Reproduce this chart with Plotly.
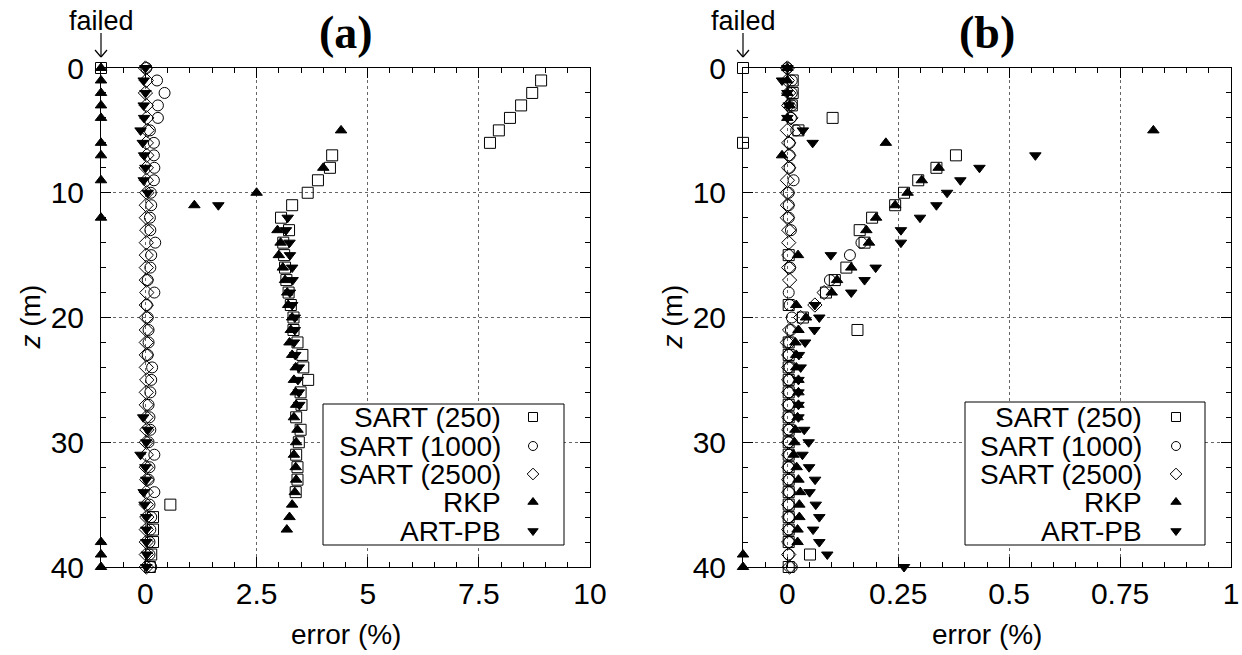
import plotly.graph_objects as go

W, H = 1242, 655
F = None  # failed reconstruction (drawn at the "failed" position)

Z = list(range(41))

# ---------------- panel (a) ----------------
SART250_A = [F, 8.9, 8.7, 8.45, 8.2, 7.95, 7.75, 4.2, 4.15, 3.88, 3.65,
             3.3, 3.05, 3.23, 3.1, 3.12, 3.14, 3.17, 3.22, 3.27, 3.33,
             3.33, 3.42, 3.53, 3.55, 3.66, 3.49, 3.51, 3.39, 3.49, 3.45,
             3.39, 3.42, 3.42, 3.38, 0.56, 0.17, 0.17, 0.17, 0.13, 0.1]
SART1000_A = [0.02, 0.26, 0.43, 0.28, 0.28, 0.10, 0.19, 0.19, 0.20, 0.19, 0.12,
              0.13, 0.10, 0.11, 0.22, 0.13, 0.11, 0.05, 0.20, 0.03, 0.05,
              0.07, 0.07, 0.05, 0.15, 0.13, 0.11, 0.07, 0.09, 0.11, 0.07,
              0.20, 0.09, 0.07, 0.20, 0.09, 0.13, 0.11, 0.09, 0.09, 0.13]
SART2500_A = [0.0, 0.02, 0.0, 0.02, 0.03, 0.04, 0.02, 0.03, 0.02, 0.02, 0.03,
              0.02, 0.02, 0.03, 0.02, 0.02, 0.02, 0.02, 0.03, 0.02, 0.02,
              0.02, 0.02, 0.02, 0.02, 0.03, 0.02, 0.02, 0.02, 0.03, 0.02,
              0.02, 0.02, 0.03, 0.02, 0.02, 0.03, 0.02, 0.02, 0.02, 0.02]
RKP_A = [F, F, F, F, F, 4.4, F, F, 4.0, F, 2.5,
         1.1, F, 2.97, 3.04, 3.0, 3.09, 3.14, 3.19, 3.21, 3.30,
         3.27, 3.24, 3.30, 3.38, 3.34, 3.38, 3.39, 3.34, 3.42, 3.39,
         3.34, 3.38, 3.39, 3.36, 3.30, 3.24, 3.18, F, F, F]
ARTPB_A = [0.0, -0.04, 0.0, -0.04, -0.03, -0.11, -0.06, -0.03, 0.0, -0.04, 0.05,
           1.64, 3.2, 3.16, 3.24, 3.25, 3.3, 3.31, 3.25, 3.3, 3.36,
           3.36, 3.34, 3.37, 3.45, 3.43, 3.45, 3.46, -0.05, 0.05, 0.02,
           -0.11, 0.0, 0.02, -0.04, -0.02, 0.02, 0.02, 0.02, 0.03, 0.02]

# ---------------- panel (b) ----------------
SART250_B = [F, 0.012, 0.012, 0.01, 0.102, 0.025, F, 0.38, 0.336, 0.295, 0.263,
             0.243, 0.191, 0.163, 0.174, 0.003, 0.133, 0.107, 0.087, 0.003, 0.035,
             0.158, 0.003, 0.003, 0.003, 0.003, 0.003, 0.003, 0.003, 0.003, 0.003,
             0.003, 0.003, 0.003, 0.003, 0.003, 0.003, 0.003, 0.003, 0.051, 0.003]
SART1000_B = [0.0, 0.01, 0.01, 0.01, 0.008, 0.02, 0.005, 0.005, 0.005, 0.014, 0.003,
              0.003, 0.003, 0.008, 0.167, 0.141, 0.006, 0.096, 0.003, 0.005, 0.01,
              0.008, 0.004, 0.003, 0.005, 0.004, 0.004, 0.003, 0.004, 0.004, 0.003,
              0.004, 0.003, 0.004, 0.004, 0.003, 0.004, 0.004, 0.004, 0.003, 0.01]
SART2500_B = [0.0, 0.0, 0.003, 0.003, 0.008, 0.0, 0.003, 0.003, 0.003, 0.0, 0.0,
              0.0, 0.0, 0.003, 0.003, 0.003, 0.003, 0.005, 0.083, 0.062, 0.03,
              0.005, 0.0, 0.003, 0.003, 0.003, 0.003, 0.003, 0.003, 0.003, 0.003,
              0.003, 0.003, 0.003, 0.003, 0.003, 0.003, 0.003, 0.003, 0.003, 0.005]
RKP_B = [0.0, 0.0, 0.0, 0.005, 0.0, 0.825, 0.222, -0.012, 0.341, 0.303, 0.271,
         0.243, 0.2, 0.178, 0.184, 0.024, 0.144, 0.112, 0.1, 0.02, 0.042,
         0.025, 0.018, 0.02, 0.02, 0.025, 0.025, 0.025, 0.023, 0.018, 0.016,
         0.014, 0.021, 0.025, 0.029, 0.027, 0.027, 0.023, 0.023, F, F]
ARTPB_B = [0.0, -0.012, 0.0, 0.003, 0.0, 0.035, 0.057, 0.559, 0.433, 0.39, 0.36,
           0.336, 0.299, 0.256, 0.256, 0.098, 0.199, 0.174, 0.144, 0.062, 0.072,
           0.061, 0.04, 0.026, 0.03, 0.025, 0.025, 0.025, 0.025, 0.038, 0.048,
           0.034, 0.049, 0.0625, 0.05, 0.064, 0.072, 0.058, 0.072, 0.09, 0.263]

NAMES = ["SART (250)", "SART (1000)", "SART (2500)", "RKP", "ART-PB"]
SYMBOLS = ["square-open", "circle-open", "diamond-open", "triangle-up", "triangle-down"]
SIZES = [11, 11, 11, 10, 10]
FAILED_X_A = -1.0
FAILED_X_B = -0.1

PANEL_A = [SART250_A, SART1000_A, SART2500_A, RKP_A, ARTPB_A]
PANEL_B = [SART250_B, SART1000_B, SART2500_B, RKP_B, ARTPB_B]

FONT = "Liberation Sans, Arial, sans-serif"

fig = go.Figure()

def add_panel(series_list, failed_x, xa, ya):
    for name, vals, sym, sz in zip(NAMES, series_list, SYMBOLS, SIZES):
        xs = [failed_x if v is None else v for v in vals]
        fig.add_trace(go.Scatter(
            x=xs, y=Z, mode="markers", name=name, showlegend=False,
            xaxis=xa, yaxis=ya, cliponaxis=False,
            marker=dict(symbol=sym, size=sz, color="black",
                        line=dict(color="black", width=1)),
        ))

add_panel(PANEL_A, FAILED_X_A, "x", "y")
add_panel(PANEL_B, FAILED_X_B, "x2", "y2")

# pixel helpers for layout decoration
def PX(x):
    return x / W

def PY(y):
    return 1 - y / H

A_L, A_R = 101, 590
B_L, B_R = 743, 1231
TOP, BOT = 68, 567

axis_common = dict(
    showline=True, linecolor="black", linewidth=1, mirror="ticks",
    ticks="inside", ticklen=10, tickcolor="black", tickwidth=1,
    showgrid=True, gridcolor="#666666", griddash="dot", gridwidth=1,
    zeroline=False, automargin=False,
    tickfont=dict(family=FONT, size=30, color="black"),
)

fig.update_layout(
    width=W, height=H,
    margin=dict(l=0, r=0, t=0, b=0, autoexpand=False),
    paper_bgcolor="white", plot_bgcolor="rgba(0,0,0,0)",
    showlegend=False,
    xaxis=dict(domain=[PX(A_L), PX(A_R)], range=[-1, 10], anchor="y",
               tickmode="linear", tick0=0, dtick=2.5,
               minor=dict(dtick=0.5, ticks="inside", ticklen=5, tickcolor="black", showgrid=False),
               ticklabelstandoff=0, **axis_common),
    yaxis=dict(domain=[PY(BOT), PY(TOP)], range=[40, 0], anchor="x",
               tickmode="linear", tick0=0, dtick=10,
               minor=dict(dtick=2, ticks="inside", ticklen=5, tickcolor="black", showgrid=False),
               ticklabelstandoff=10, **axis_common),
    xaxis2=dict(domain=[PX(B_L), PX(B_R)], range=[-0.1, 1], anchor="y2",
                tickmode="linear", tick0=0, dtick=0.25,
                minor=dict(dtick=0.05, ticks="inside", ticklen=5, tickcolor="black", showgrid=False),
                ticklabelstandoff=0, **axis_common),
    yaxis2=dict(domain=[PY(BOT), PY(TOP)], range=[40, 0], anchor="x2",
                tickmode="linear", tick0=0, dtick=10,
                minor=dict(dtick=2, ticks="inside", ticklen=5, tickcolor="black", showgrid=False),
                ticklabelstandoff=10, **axis_common),
    xaxis3=dict(domain=[0, 1], range=[0, W], visible=False, fixedrange=True,
                anchor="y3", automargin=False),
    yaxis3=dict(domain=[0, 1], range=[H, 0], visible=False, fixedrange=True,
                anchor="x3", automargin=False),
)

# ---------------- custom legends ----------------
LEG = [
    dict(xref="x", yref="y", box=(323, 404, 564, 545), text_r=502, mark_x=533),
    dict(xref="x2", yref="y2", box=(965, 402, 1205, 545), text_r=1143, mark_x=1176),
]
ROWS = [417, 446, 474, 502, 531]
PANEL_RANGES = {"x": (A_L, A_R, -1, 10), "x2": (B_L, B_R, -0.1, 1)}

def to_data_x(ref, px):
    l, r, d0, d1 = PANEL_RANGES[ref]
    return d0 + (px - l) / (r - l) * (d1 - d0)

def to_data_y(py):
    return (py - TOP) / (BOT - TOP) * 40

for leg in LEG:
    x0, y0, x1, y1 = leg["box"]
    fig.add_shape(type="rect", xref=leg["xref"], yref=leg["yref"], layer="between",
                  x0=to_data_x(leg["xref"], x0), x1=to_data_x(leg["xref"], x1),
                  y0=to_data_y(y0), y1=to_data_y(y1),
                  line=dict(color="black", width=1), fillcolor="white")
    for name, sym, ry in zip(NAMES, SYMBOLS, ROWS):
        fig.add_annotation(x=PX(leg["text_r"]), y=PY(ry), xref="paper", yref="paper",
                           text=name, showarrow=False, xanchor="right", yanchor="middle",
                           borderpad=0,
                           font=dict(family=FONT, size=28, color="black"))
        fig.add_trace(go.Scatter(x=[leg["mark_x"]], y=[ry], xaxis="x3", yaxis="y3",
                                 mode="markers", showlegend=False, hoverinfo="skip",
                                 cliponaxis=False,
                                 marker=dict(symbol=sym, size=9, color="black",
                                             line=dict(color="black", width=1))))

# ---------------- titles / labels ----------------
for cx, lab in [((A_L + A_R) / 2, "(a)"), ((B_L + B_R) / 2, "(b)")]:
    fig.add_annotation(x=PX(cx), y=PY(33), xref="paper", yref="paper",
                       text="<b>" + lab + "</b>", showarrow=False,
                       xanchor="center", yanchor="middle",
                       font=dict(family="Liberation Serif, Times New Roman, serif", size=46, color="black"))
    fig.add_annotation(x=PX(cx), y=PY(634), xref="paper", yref="paper",
                       text="error (%)", showarrow=False, xanchor="center", yanchor="middle",
                       font=dict(family=FONT, size=28, color="black"))

for lx, ylab_x in [(A_L, 30), (B_L, 672)]:
    fig.add_annotation(x=PX(ylab_x), y=PY((TOP + BOT) / 2), xref="paper", yref="paper",
                       text="<i>z</i> (m)", showarrow=False, textangle=-90,
                       xanchor="center", yanchor="middle",
                       font=dict(family=FONT, size=28, color="black"))
    # "failed" marker text and arrow
    fig.add_annotation(x=PX(lx), y=PY(21), xref="paper", yref="paper",
                       text="failed", showarrow=False, xanchor="center", yanchor="middle",
                       font=dict(family=FONT, size=27, color="black"))
    fig.add_shape(type="line", xref="paper", yref="paper",
                  x0=PX(lx), x1=PX(lx), y0=PY(33), y1=PY(57),
                  line=dict(color="black", width=1.2))
    fig.add_shape(type="line", xref="paper", yref="paper",
                  x0=PX(lx - 6), x1=PX(lx), y0=PY(50), y1=PY(57),
                  line=dict(color="black", width=1.2))
    fig.add_shape(type="line", xref="paper", yref="paper",
                  x0=PX(lx + 6), x1=PX(lx), y0=PY(50), y1=PY(57),
                  line=dict(color="black", width=1.2))

fig.write_html("out.html")
